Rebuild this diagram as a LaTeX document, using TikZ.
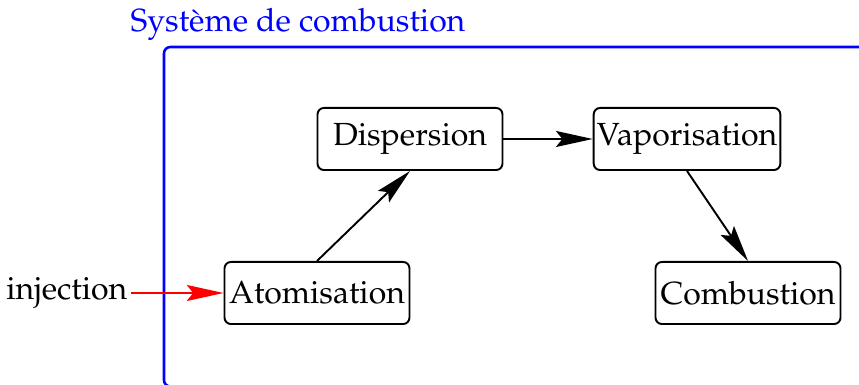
\documentclass[tikz,border=0pt]{standalone}
\usepackage[T1]{fontenc}
\usepackage{mathpazo}
\usepackage{tikz}
\usetikzlibrary{arrows.meta,positioning}
\tikzset{
  etape/.style = {rectangle, rounded corners=2pt, draw=black, semithick, align=center,
                  minimum width=57.8pt, minimum height=19.4pt, inner sep=1pt},
  fleche/.style = {-{Stealth[length=11.5pt,width=5pt,inset=2pt]}, semithick},
  cadre/.style = {draw=blue, thick, rounded corners=2pt},
}

\begin{document}
\begin{tikzpicture}[x=0.3125pt, y=0.3125pt]
\useasboundingbox (0,0) rectangle (859,385);
\draw [cadre] (164,-1.5) rectangle (870,338);
\node [blue, anchor=base west, inner sep=0pt] (titre) at (130,353) {Syst\`eme de combustion};
\node [etape] (atom) at (317,92) {Atomisation};
\node [etape] (disp) at (410,246) {Dispersion};
\node [etape] (vapo) at (687,246) {Vaporisation};
\node [etape] (comb) at (748,92) {Combustion};
\node [anchor=east, inner sep=1pt] (inj) at (131,92) {injection};
\draw [fleche, red] (inj) -- (atom);
\draw [fleche] (atom.north) -- (disp.south);
\draw [fleche] (disp) -- (vapo);
\draw [fleche] (vapo.south) -- (comb.north);
\end{tikzpicture}
\end{document}
